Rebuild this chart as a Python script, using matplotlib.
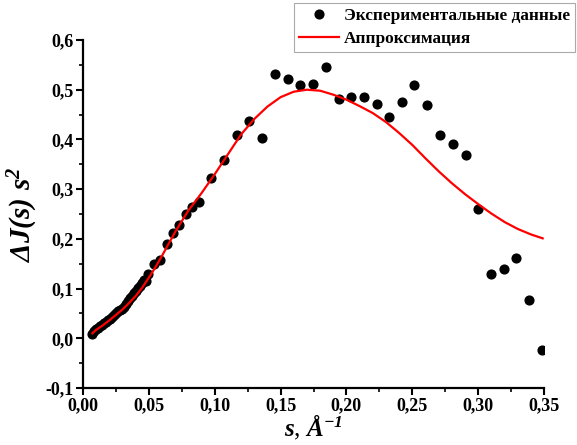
import numpy as np
import matplotlib
matplotlib.use("Agg")
import matplotlib.pyplot as plt

plt.rcParams['font.family'] = ['Liberation Serif', 'DejaVu Serif']
plt.rcParams['font.weight'] = 'bold'
plt.rcParams['mathtext.fontset'] = 'custom'
plt.rcParams['mathtext.rm'] = 'Liberation Serif:bold'
plt.rcParams['mathtext.it'] = 'Liberation Serif:italic:bold'
plt.rcParams['mathtext.bf'] = 'Liberation Serif:bold'
plt.rcParams['mathtext.bfit'] = 'Liberation Serif:italic:bold'

# experimental points
s_exp = [0.0072, 0.0085, 0.0100, 0.0115, 0.0130, 0.0145, 0.0160, 0.0175, 0.0190, 0.0205,
         0.0220, 0.0235, 0.0250, 0.0265, 0.0280, 0.0295, 0.0310, 0.0325, 0.0340, 0.0355,
         0.0370, 0.0385, 0.0400, 0.0415, 0.0430, 0.0445, 0.0460, 0.0478, 0.0496, 0.0540,
         0.0585, 0.0635, 0.0680, 0.0731, 0.0782, 0.0828, 0.0881, 0.0972, 0.1070, 0.1167,
         0.1260, 0.1360, 0.1456, 0.1554, 0.1650, 0.1744, 0.1843, 0.1940, 0.2035, 0.2134,
         0.2230, 0.2326, 0.2422, 0.2516, 0.2614, 0.2710, 0.2807, 0.2906, 0.3000, 0.3096,
         0.3194, 0.3290, 0.3387, 0.3483]
dj_exp = [0.008, 0.014, 0.018, 0.021, 0.024, 0.027, 0.030, 0.033, 0.036, 0.039,
          0.042, 0.046, 0.051, 0.055, 0.057, 0.059, 0.063, 0.069, 0.075, 0.081,
          0.086, 0.091, 0.096, 0.101, 0.106, 0.111, 0.117, 0.115, 0.129, 0.150,
          0.157, 0.189, 0.211, 0.227, 0.250, 0.264, 0.275, 0.322, 0.359, 0.409,
          0.438, 0.402, 0.531, 0.522, 0.510, 0.512, 0.546, 0.481, 0.485, 0.486,
          0.471, 0.445, 0.476, 0.510, 0.469, 0.409, 0.390, 0.368, 0.261, 0.130,
          0.139, 0.162, 0.078, -0.023]

# approximation curve
s_fit = [0.0071, 0.010, 0.015, 0.020, 0.025, 0.030, 0.035, 0.040, 0.045, 0.050,
         0.055, 0.060, 0.065, 0.070, 0.080, 0.090, 0.100, 0.110, 0.120, 0.130,
         0.140, 0.150, 0.160, 0.170, 0.180, 0.190, 0.200, 0.210, 0.220, 0.230,
         0.240, 0.250, 0.260, 0.270, 0.280, 0.290, 0.300, 0.310, 0.320, 0.330,
         0.340, 0.349]
dj_fit = [0.010, 0.017, 0.026, 0.036, 0.047, 0.058, 0.071, 0.085, 0.102, 0.122,
          0.143, 0.166, 0.190, 0.214, 0.257, 0.292, 0.330, 0.370, 0.410, 0.441,
          0.466, 0.485, 0.496, 0.500, 0.498, 0.490, 0.480, 0.467, 0.453, 0.435,
          0.413, 0.389, 0.362, 0.336, 0.312, 0.290, 0.270, 0.251, 0.234, 0.220,
          0.209, 0.201]

xticks = np.arange(0, 0.351, 0.05)
yticks = np.arange(-0.1, 0.61, 0.1)

fig = plt.figure(figsize=(5.77, 4.45), dpi=100)
ax = fig.add_axes([83/577, 1 - 388/445, 461/577, 348/445])

ax.plot(s_exp, dj_exp, 'o', color='black', markersize=6.3, label='Экспериментальные данные', zorder=2)
ax.plot(s_fit, dj_fit, '-', color='#ff0000', lw=1.6, label='Аппроксимация', zorder=3)

ax.set_xlim(0, 0.35)
ax.set_ylim(-0.1, 0.6)
ax.set_xticks(xticks)
ax.set_yticks(yticks)
ax.set_xticks(np.arange(0.025, 0.35, 0.05), minor=True)
ax.set_yticks(np.arange(-0.05, 0.6, 0.1), minor=True)
ax.set_xticklabels([('%.2f' % v).replace('.', ',') for v in xticks])
ax.set_yticklabels([('%.1f' % v).replace('.', ',').replace('-0,0', '0,0') for v in yticks])

for sp in ['top', 'right']:
    ax.spines[sp].set_visible(False)
for sp in ['left', 'bottom']:
    ax.spines[sp].set_linewidth(1.6)
ax.tick_params(which='major', direction='out', length=5, width=1.5, labelsize=13, pad=2)
ax.tick_params(which='minor', direction='out', length=3, width=1.2)

ax.set_xlabel(r'$\mathbfit{s}$, $\mathbfit{\AA^{-1}}$', fontsize=18, labelpad=-1)
ax.set_ylabel(r'$\mathbfit{\Delta J(s)\ s^{2}}$', fontsize=21, labelpad=4)

leg = fig.legend(loc='upper right', bbox_to_anchor=(0.997, 0.993), fontsize=12.4,
                 frameon=True, fancybox=False, edgecolor='#aaaaaa', framealpha=1,
                 handlelength=2.3, handletextpad=0.3, borderpad=0.3, labelspacing=0.4,
                 borderaxespad=0, markerscale=1.0)
leg.get_frame().set_linewidth(0.8)

fig.savefig('out.png', dpi=100)
